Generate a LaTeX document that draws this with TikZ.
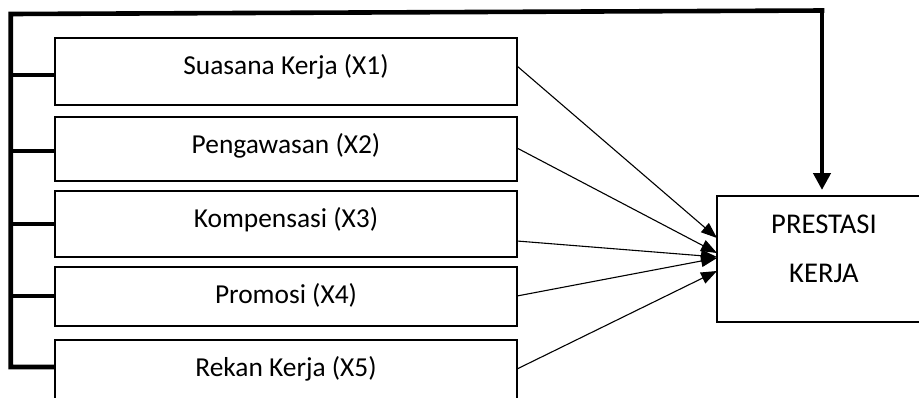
\documentclass[tikz,border=0pt]{standalone}
\usepackage{fontspec}
\setmainfont{Carlito}
\usetikzlibrary{arrows.meta,calc}
\begin{document}
\begin{tikzpicture}[x=1pt,y=-1pt,
  varbox/.style={draw, line width=1.3pt, inner sep=0pt, outer sep=0pt,
    minimum width=462pt, anchor=north west,
    font=\fontsize{27.4}{30}\selectfont, text height=36pt},
  resultbox/.style={draw, line width=1.3pt, inner sep=0pt, outer sep=0pt,
    minimum width=214pt, minimum height=126pt, anchor=north west},
  resulttext/.style={font=\fontsize{28.6}{30}\selectfont, anchor=base, inner sep=0pt},
  bracket/.style={line width=4.6pt},
  link/.style={line width=1.1pt, -{Triangle[length=16pt,width=12pt]}},
]
\useasboundingbox (0,0) rectangle (919,397);
\clip (0,0) rectangle (919,397);

% independent variables
\node[varbox, text depth=31pt] (x1) at (55,38)  {Suasana Kerja (X1)};
\node[varbox, text depth=28pt] (x2) at (55,117) {Pengawasan (X2)};
\node[varbox, text depth=30pt] (x3) at (55,191) {Kompensasi (X3)};
\node[varbox, text depth=23pt] (x4) at (55,267) {Promosi (X4)};
\node[varbox, text depth=44pt] (x5) at (55,340) {Rekan Kerja (X5)};

% dependent variable
\node[resultbox] (pk) at (717,196) {};
\node[resulttext] (pk1) at ($(pk.north)+(0,37)$) {PRESTASI};
\node[resulttext] (pk2) at ($(pk.north)+(0,86)$) {KERJA};

% simultaneous bracket
\coordinate (spine) at (13,14);
\coordinate (t1) at ($(x1.north west)+(0,37)$);
\coordinate (t2) at ($(x2.north west)+(0,34)$);
\coordinate (t3) at ($(x3.north west)+(0,33)$);
\coordinate (t4) at ($(x4.north west)+(0,29)$);
\coordinate (t5) at ($(x5.north west)+(0,27)$);
\coordinate (tip) at ($(pk.north west)+(105,-6)$);
\coordinate (corner) at (824.3,10.5);
\coordinate (drop) at (822,12.5);

\draw[bracket, line join=miter] (t5) -| (10.7,14) -- (corner);
\draw[bracket, -{Triangle[length=17pt,width=17pt]}] (drop) -- (tip);
\foreach \t in {t1,t2,t3,t4}
  \draw[bracket] (spine |- \t) -- (\t);

% partial effects
\draw[link] ($(x1.north east)+(0,28)$) -- ($(pk.north west)+(0,42)$);
\draw[link] ($(x2.north east)+(0,31)$) -- ($(pk.north west)+(0,57)$);
\draw[link] ($(x3.north east)+(0,50)$) -- ($(pk.north west)+(0,61)$);
\draw[link] ($(x4.north east)+(0,29)$) -- ($(pk.north west)+(0,62)$);
\draw[link] ($(x5.north east)+(0,29)$) -- ($(pk.north west)+(0,75)$);
\end{tikzpicture}
\end{document}
